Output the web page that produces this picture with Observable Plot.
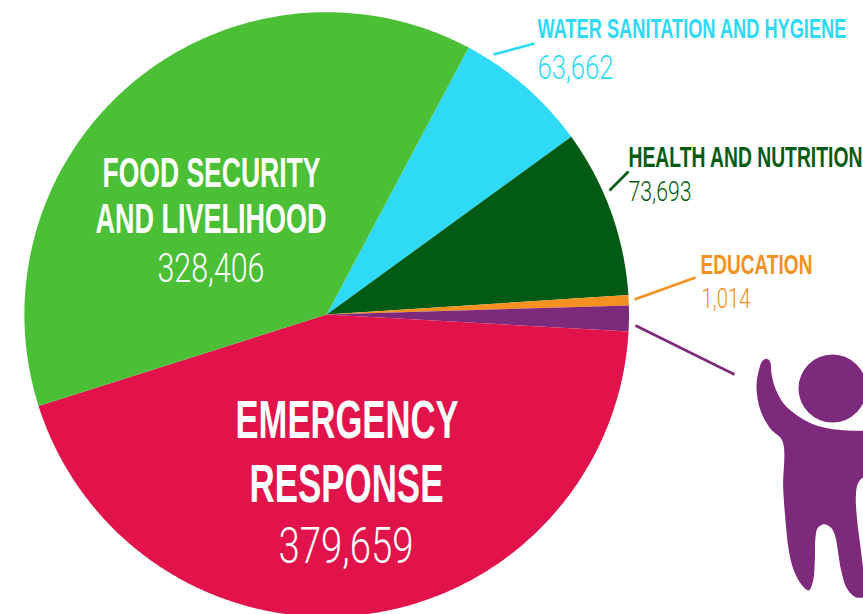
<!DOCTYPE html>
<html>
<head>
<meta charset="utf-8">
<script src="https://cdn.jsdelivr.net/npm/d3@7"></script>
<script src="https://cdn.jsdelivr.net/npm/@observablehq/plot@0.6"></script>
<style>html,body{margin:0;padding:0;background:#fff;overflow:hidden}svg{display:block}</style>
</head>
<body>
<div id="chart"></div>
<script>
// Data
const categories = ["WATER SANITATION AND HYGIENE", "HEALTH AND NUTRITION", "EDUCATION", "CHILD", "EMERGENCY RESPONSE", "FOOD SECURITY AND LIVELIHOOD"];
const sliceDegrees = [26.0, 32.3, 2.0, 4.9, 159.2, 135.6]; // drawn widths, not proportional to the labels
const sliceColors = ["#2FDAF7", "#025B14", "#F59120", "#7E2A7C", "#E1134A", "#4BBF35"];
const peopleValues = [63662, 73693, 1014, 379659, 328406];

// Layout
const startDeg = 28, cx = 326.2, cy = 314, radius = 302.3;
const pieces = d3.pie().sort(null).startAngle(startDeg * Math.PI / 180).endAngle((startDeg + 360) * Math.PI / 180)(sliceDegrees);
const slicePoints = pieces.flatMap((p, i) => {
  const n = Math.max(2, Math.ceil((p.endAngle - p.startAngle) * 180 / Math.PI * 2));
  const pts = [{i, x: cx, y: cy}];
  for (let k = 0; k <= n; k++) {
    const a = p.startAngle + (p.endAngle - p.startAngle) * k / n;
    pts.push({i, x: cx + radius * Math.sin(a), y: cy - radius * Math.cos(a)});
  }
  return pts;
});

const fmt = d3.format(",");
const boldLabels = [
  {t: "WATER SANITATION AND HYGIENE", x: 537, y: 37.5, s: 28, w: 309, c: sliceColors[0]},
  {t: "HEALTH AND NUTRITION", x: 628, y: 166, s: 29, w: 234, c: sliceColors[1]},
  {t: "EDUCATION", x: 700, y: 273, s: 28, w: 112, c: sliceColors[2]},
  {t: "FOOD SECURITY", x: 102, y: 186, s: 42, w: 218, c: "#fff"},
  {t: "AND LIVELIHOOD", x: 95, y: 232, s: 42, w: 231, c: "#fff"},
  {t: "EMERGENCY", x: 235, y: 437, s: 53, w: 223, c: "#fff"},
  {t: "RESPONSE", x: 249, y: 501, s: 53, w: 194, c: "#fff"}
];
const lightLabels = [
  {t: fmt(peopleValues[0]), x: 537, y: 78, s: 34, w: 76, c: sliceColors[0]},
  {t: fmt(peopleValues[1]), x: 628, y: 200, s: 28, w: 63, c: sliceColors[1]},
  {t: fmt(peopleValues[2]), x: 701, y: 307, s: 28, w: 49, c: sliceColors[2]},
  {t: fmt(peopleValues[4]), x: 157, y: 281, s: 41, w: 107, c: "#fff"},
  {t: fmt(peopleValues[3]), x: 278, y: 562, s: 50, w: 135, c: "#fff"}
];
const leaders = [
  {x1: 493, y1: 54, x2: 534, y2: 43, c: sliceColors[0]},
  {x1: 609, y1: 190, x2: 628, y2: 171, c: sliceColors[1]},
  {x1: 634, y1: 299, x2: 695, y2: 277, c: sliceColors[2]},
  {x1: 635, y1: 325, x2: 734, y2: 374, c: sliceColors[3]}
];
// Child icon outline, in crop coordinates of the picture (x = 700 + zx/3, y = 320 + zy/3)
const iconOutline = [[197,115],[208,122],[214,165],[225,205],[250,250],[290,285],[340,312],[390,325],[440,330],[489,331],[540,331],[590,335],[590,465],[540,470],[489,470],[472,490],[466,530],[470,600],[480,680],[490,760],[500,825],[465,830],[440,805],[422,750],[412,690],[405,650],[392,622],[370,611],[352,622],[345,650],[343,720],[338,780],[325,810],[305,795],[280,750],[265,690],[255,600],[248,500],[246,362],[210,325],[180,270],[168,200],[175,150],[185,122]]
  .map(([zx, zy]) => ({x: 700 + zx / 3, y: 320 + zy / 3}));
const iconHead = [{x: 832, y: 388, r: 34}];

function labelMark(rows, family, weight) {
  return Plot.text(rows, {
    x: "x", y: "y", text: "t", fill: "c", fontSize: "s",
    textAnchor: "start", lineAnchor: "bottom",
    fontFamily: family, fontWeight: weight,
    className: "fit"
  });
}

const chart = Plot.plot({
  width: 863, height: 614, margin: 0,
  style: {background: "#fff"},
  x: {domain: [0, 863], range: [0, 863], axis: null},
  y: {domain: [0, 614], range: [0, 614], axis: null},
  r: {type: "identity"},
  color: {type: "identity"},
  marks: [
    Plot.line(slicePoints, {x: "x", y: "y", z: "i", fill: d => sliceColors[d.i], stroke: null}),
    Plot.link(leaders, {x1: "x1", y1: "y1", x2: "x2", y2: "y2", stroke: "c", strokeWidth: 2.6}),
    Plot.line(iconOutline, {x: "x", y: "y", fill: sliceColors[3], stroke: null, curve: "catmull-rom-closed"}),
    Plot.dot(iconHead, {x: "x", y: "y", r: "r", fill: sliceColors[3], stroke: null}),
    labelMark(boldLabels, "'Liberation Sans Narrow','Liberation Sans',sans-serif", 700),
    labelMark(lightLabels, "Roboto,'Liberation Sans',sans-serif", 300)
  ]
});
document.getElementById("chart").append(chart);

// Condense every label horizontally to the width it has in the picture
const allLabels = boldLabels.concat(lightLabels);
chart.querySelectorAll("g.fit text").forEach(el => {
  const row = allLabels.find(r => r.t === el.textContent);
  const natural = el.getComputedTextLength();
  const base = el.getAttribute("transform") || "";
  el.setAttribute("transform", `${base} scale(${row.w / natural},1)`);
});
</script>
</body>
</html>
